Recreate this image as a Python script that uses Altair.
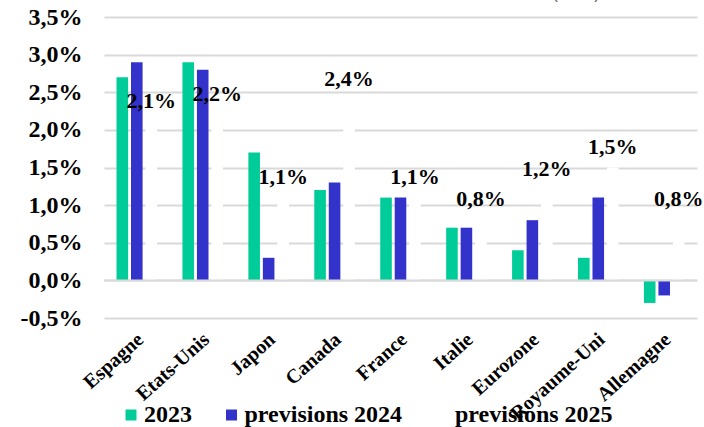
import altair as alt
import pandas as pd

# Growth by country, in percent
countries = ["Espagne", "Etats-Unis", "Japon", "Canada", "France",
             "Italie", "Eurozone", "Royaume-Uni", "Allemagne"]
series_names = ["2023", "previsions 2024", "previsions 2025"]
values_2023 = [2.7, 2.9, 1.7, 1.2, 1.1, 0.7, 0.4, 0.3, -0.3]
values_2024 = [2.9, 2.8, 0.3, 1.3, 1.1, 0.7, 0.8, 1.1, -0.2]
values_2025 = [2.1, 2.2, 1.1, 2.4, 1.1, 0.8, 1.2, 1.5, 0.8]
y_ticks = [-0.5, 0.0, 0.5, 1.0, 1.5, 2.0, 2.5, 3.0, 3.5]
colors = ["#00CC99", "#3333CC", "#FFFFFF"]
unit_note = "(en %)"

rows = []
for series, vals in zip(series_names, [values_2023, values_2024, values_2025]):
    for c, v in zip(countries, vals):
        rows.append({"pays": c, "serie": series, "valeur": v,
                     "label": f"{v:.1f}".replace(".", ",") + "%"})
df = pd.DataFrame(rows)

SERIF = "Times New Roman, Liberation Serif, serif"

x_axis = alt.Axis(labelAngle=-42, labelAlign="right", labelBaseline="top",
                  labelPadding=11, labelOffset=-3, labelFont=SERIF, labelFontWeight="bold",
                  labelFontSize=20, labelColor="#000000", labelOverlap=False,
                  domain=False, ticks=False, grid=False)
x_scale = alt.Scale(paddingInner=0.385, paddingOuter=0.19)
xoff_scale = alt.Scale(domain=series_names, paddingInner=0.2, paddingOuter=0)
y_scale = alt.Scale(domain=[-0.5, 3.5], nice=False, zero=False)
y_axis = alt.Axis(values=y_ticks, domain=False, ticks=False,
                  grid=True, gridColor="#d9d9d9", gridWidth=2,
                  labelOverlap=False, labelFlush=False, labelSeparation=0,
                  labelPadding=22, labelFont=SERIF, labelFontWeight="bold",
                  labelFontSize=24, labelColor="#000000",
                  labelExpr="(datum.value < 0 ? '-' : '') + replace(format(abs(datum.value), '.1f'), '.', ',') + '%'")

x_enc = alt.X("pays:N", sort=countries, title=None, scale=x_scale, axis=x_axis)
xoff_enc = alt.XOffset("serie:N", sort=series_names, scale=xoff_scale)

bars = alt.Chart(df).mark_bar(strokeWidth=0).encode(
    x=x_enc,
    xOffset=xoff_enc,
    y=alt.Y("valeur:Q", title=None, scale=y_scale, axis=y_axis),
    color=alt.Color("serie:N", sort=series_names,
                    scale=alt.Scale(domain=series_names, range=colors),
                    legend=alt.Legend(title=None, orient="none", legendX=15, legendY=386,
                                      direction="horizontal", symbolType="square",
                                      symbolSize=121, symbolStrokeWidth=0,
                                      labelFont=SERIF, labelFontWeight="bold",
                                      labelFontSize=24, labelColor="#000000",
                                      labelOffset=1, columnPadding=27.5, padding=0)),
)

labels = alt.Chart(df).transform_filter(
    alt.datum.serie == "previsions 2025"
).mark_text(font=SERIF, fontWeight="bold", fontSize=22, color="#000000",
            baseline="middle", dy=-21).encode(
    x=x_enc,
    xOffset=xoff_enc,
    y=alt.Y("valeur:Q", title=None, scale=y_scale, axis=y_axis),
    text="label:N",
)

zero_line = alt.Chart(pd.DataFrame({"valeur": [0.0]})).mark_rule(
    color="#d9d9d9", strokeWidth=2).encode(
    y=alt.Y("valeur:Q", title=None, scale=y_scale, axis=y_axis))

note = alt.Chart(pd.DataFrame({"t": [unit_note]})).mark_text(
    font="Liberation Sans", fontSize=16, color="#595959", baseline="alphabetic",
    align="center").encode(x=alt.value(472), y=alt.value(-18.5), text="t:N")

chart = alt.layer(bars, zero_line, labels, note).properties(
    width=593, height=301,
    background="#ffffff",
    autosize=alt.AutoSizeParams(type="none"),
    padding={"left": 104, "top": 17, "right": 7, "bottom": 109},
).configure_view(stroke=None).configure_axis(labelOverlap=False)

chart.save("out.html", embed_options={"renderer": "svg", "actions": False})
